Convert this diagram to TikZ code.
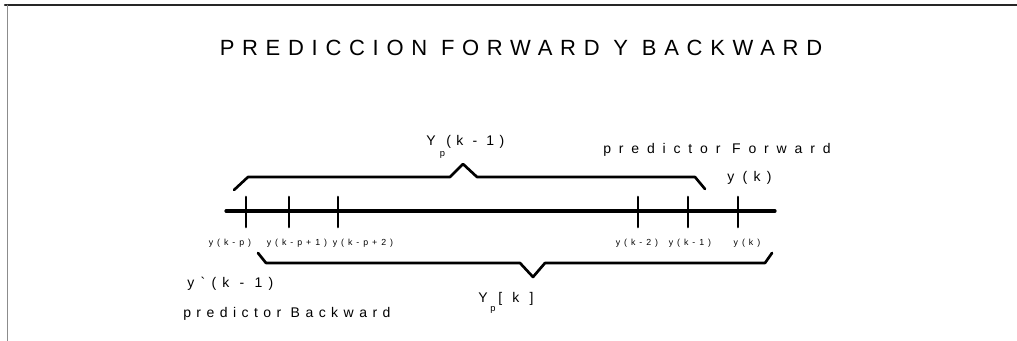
\documentclass[tikz,border=0pt]{standalone}
\usepackage{fontspec}
\setmainfont{Liberation Sans}
\newfontfamily\titlefont[LetterSpace=35]{Liberation Sans}
\newfontfamily\labelfont[LetterSpace=45]{Liberation Sans}
\newfontfamily\tinyfont[LetterSpace=45]{Liberation Sans}

\begin{document}
\begin{tikzpicture}[x=0.75pt,y=-0.75pt, line join=round, line cap=round,
	axe/.style={line width=2.4pt},
	tick/.style={line width=2pt},
	brace/.style={line width=2pt},
	lab/.style={font=\labelfont\fontsize{10.5}{12}\selectfont, inner sep=0pt, anchor=base west},
	tlab/.style={font=\tinyfont\fontsize{6.6}{8}\selectfont, inner sep=0pt, anchor=base}]
	\useasboundingbox (0,0) rectangle (1017,341);
	% frame
	\draw[line width=1.6pt, black!85] (5,5) -- (1017,5);
	\draw[line width=0.6pt, black!45] (7,5) -- (7,341);
	\node[font=\titlefont\fontsize{16.5}{19}\selectfont, inner sep=0pt, anchor=base] (titre) at (521,56) {PREDICCION FORWARD Y BACKWARD};
	% axis and ticks
	\coordinate (A0) at (226,211);
	\coordinate (A1) at (775,211);
	\draw[axe] (A0) -- (A1);
	\foreach \x/\n in {246/1,289/2,338/3,638/4,688/5,738/6}
		\draw[tick] (\x,197) coordinate (t\n) -- (\x,227) coordinate (b\n);
	\node[tlab] (l1) at (230,246) {y(k-p)};
	\node[tlab] (l2) at (297,246) {y(k-p+1)};
	\node[tlab] (l3) at (363,246) {y(k-p+2)};
	\node[tlab] (l4) at (637,246) {y(k-2)};
	\node[tlab] (l5) at (690,246) {y(k-1)};
	\node[tlab] (l6) at (747,246) {y(k)};
	% forward brace
	\coordinate (F0) at (234,190);
	\coordinate (F1) at (248,177);
	\coordinate (F2) at (450,177);
	\coordinate (Fp) at (463,164);
	\coordinate (F3) at (477,177);
	\coordinate (F4) at (695,177);
	\coordinate (F5) at (705,189);
	\draw[brace] (F0) -- (F1) -- (F2) -- (Fp) -- (F3) -- (F4) -- (F5);
	% backward brace
	\coordinate (B0) at (258,253);
	\coordinate (B1) at (266,263);
	\coordinate (B2) at (520,263);
	\coordinate (Bp) at (533,277);
	\coordinate (B3) at (545,263);
	\coordinate (B4) at (765,263);
	\coordinate (B5) at (772,253);
	\draw[brace] (B0) -- (B1) -- (B2) -- (Bp) -- (B3) -- (B4) -- (B5);
	% labels
	\node[lab, font=\labelfont\fontsize{10.5}{12}\selectfont\addfontfeature{LetterSpace=38}] (yf) at (426,146) {Y\hspace{0.3em}\raisebox{-0.75em}{\fontsize{7}{8}\selectfont p}\hspace{0.1em}(k - 1)};
	\node[lab, font=\labelfont\fontsize{10.5}{12}\selectfont\addfontfeature{LetterSpace=56}] (pf) at (603,154) {predictor Forward};
	\node[lab] (yk) at (727,182) {y\hspace{0.6em}(k)};
	\node[lab] (yb) at (187,288) {y`(k - 1)};
	\node[lab, font=\labelfont\fontsize{10.5}{12}\selectfont\addfontfeature{LetterSpace=39}] (pb) at (183,318) {predictor Backward};
	\node[lab] (yp) at (478,303) {Y\hspace{0.2em}\raisebox{-0.6em}{\fontsize{7}{8}\selectfont p}\hspace{0.2em}[ k ]};
\end{tikzpicture}
\end{document}
